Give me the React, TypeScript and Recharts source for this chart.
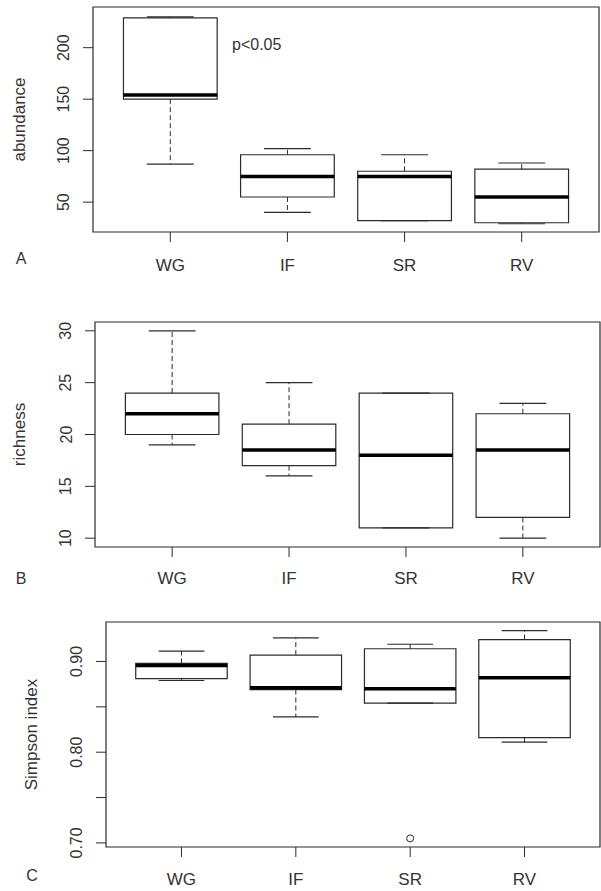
import React from "react";
import { ComposedChart, XAxis, YAxis, ReferenceArea, ReferenceLine, Scatter } from "recharts";

const categories = ["WG", "IF", "SR", "RV"];
const xPos = [1, 2, 3, 4];

// abundance (panel A)
const abundanceLow = [87, 40, 32, 29];
const abundanceQ1 = [150, 55, 32, 30];
const abundanceMedian = [154, 75, 75, 55];
const abundanceQ3 = [229, 96, 80, 82];
const abundanceHigh = [230, 102, 96, 88];
const abundanceTicks = [50, 100, 150, 200];

// richness (panel B)
const richnessLow = [19, 16, 11, 10];
const richnessQ1 = [20, 17, 11, 12];
const richnessMedian = [22, 18.5, 18, 18.5];
const richnessQ3 = [24, 21, 24, 22];
const richnessHigh = [30, 25, 24, 23];
const richnessTicks = [10, 15, 20, 25, 30];

// Simpson index (panel C)
const simpsonLow = [0.879, 0.839, 0.854, 0.811];
const simpsonQ1 = [0.881, 0.869, 0.854, 0.816];
const simpsonMedian = [0.8956, 0.871, 0.870, 0.882];
const simpsonQ3 = [0.8978, 0.907, 0.914, 0.924];
const simpsonHigh = [0.9115, 0.926, 0.919, 0.934];
const simpsonOutliers = [{ x: 3, y: 0.705 }];
const simpsonTicks = [0.7, 0.75, 0.8, 0.85, 0.9];
const simpsonTickLabels = ["0.70", "", "0.80", "", "0.90"];

const INK = "#2b2b2b";
const TEXT = "#333";
const FONT = "'Liberation Sans', Arial, sans-serif";
const X_DOMAIN: [number, number] = [0.34, 4.66];
const HALF_BOX = 0.4;
const HALF_CAP = 0.2;

const YTick = (props: any) => {
    const { x, y, payload, labels, ticks } = props;
    const idx = ticks.indexOf(payload.value);
    const label = labels ? labels[idx] : String(payload.value);
    const cx = x - 17;
    return (
        <text x={cx} y={y} transform={`rotate(-90, ${cx}, ${y})`} textAnchor="middle" dominantBaseline="central"
            fontSize={16} fill={TEXT} fontFamily={FONT}>{label}</text>
    );
};

const XTick = (props: any) => {
    const { x, y, payload, dy } = props;
    return (
        <text x={x} y={y + dy} textAnchor="middle" dominantBaseline="central" fontSize={17} fill={TEXT} fontFamily={FONT}>
            {categories[payload.value - 1]}
        </text>
    );
};

// extra text: axis title, panel letter, annotation
const Annotations = (props: any) => {
    const { title, titleX, titleY, letter, letterX, letterY, note } = props;
    return (
        <g fontFamily={FONT} fill={TEXT}>
            <text x={titleX} y={titleY} transform={`rotate(-90, ${titleX}, ${titleY})`} textAnchor="middle"
                dominantBaseline="central" fontSize={17}>{title}</text>
            <text x={letterX} y={letterY} textAnchor="middle" dominantBaseline="central" fontSize={16}>{letter}</text>
            {note && <text x={note.x} y={note.y} fontSize={16}>{note.text}</text>}
        </g>
    );
};

interface PanelProps {
    top: number;
    height: number;
    margin: { top: number; right: number; bottom: number; left: number };
    low: number[];
    q1: number[];
    median: number[];
    q3: number[];
    high: number[];
    outliers: { x: number; y: number }[];
    domain: [number, number];
    ticks: number[];
    tickLabels?: string[];
    labelDy: number;
    annotations: any;
}

const BoxPanel: React.FC<PanelProps> = (p) => {
    return (
        <div style={{ position: "absolute", left: 0, top: p.top }}>
            <ComposedChart width={601} height={p.height} margin={p.margin}>
                <XAxis type="number" dataKey="x" domain={X_DOMAIN} allowDataOverflow ticks={xPos}
                    tickSize={10} axisLine={false} tickLine={{ stroke: INK }}
                    tick={<XTick dy={p.labelDy} />} height={40} interval={0}
                    label={<Annotations {...p.annotations} />} />
                <YAxis type="number" dataKey="y" domain={p.domain} allowDataOverflow ticks={p.ticks}
                    tickSize={10} axisLine={false} tickLine={{ stroke: INK }} width={60} interval={0}
                    tick={<YTick labels={p.tickLabels} ticks={p.ticks} />} />
                {/* plot frame */}
                <ReferenceArea x1={X_DOMAIN[0]} x2={X_DOMAIN[1]} y1={p.domain[0]} y2={p.domain[1]}
                    fill="none" stroke={INK} strokeWidth={1.2} ifOverflow="visible" />
                {xPos.map((x, i) => (
                    <React.Fragment key={categories[i]}>
                        <ReferenceLine segment={[{ x, y: p.q3[i] }, { x, y: p.high[i] }]} stroke={INK} strokeDasharray="5 3" ifOverflow="visible" />
                        <ReferenceLine segment={[{ x, y: p.q1[i] }, { x, y: p.low[i] }]} stroke={INK} strokeDasharray="5 3" ifOverflow="visible" />
                        <ReferenceLine segment={[{ x: x - HALF_CAP, y: p.high[i] }, { x: x + HALF_CAP, y: p.high[i] }]} stroke={INK} strokeWidth={1.2} ifOverflow="visible" />
                        <ReferenceLine segment={[{ x: x - HALF_CAP, y: p.low[i] }, { x: x + HALF_CAP, y: p.low[i] }]} stroke={INK} strokeWidth={1.2} ifOverflow="visible" />
                        <ReferenceArea x1={x - HALF_BOX} x2={x + HALF_BOX} y1={p.q1[i]} y2={p.q3[i]}
                            fill="none" stroke={INK} strokeWidth={1.2} ifOverflow="visible" />
                        <ReferenceLine segment={[{ x: x - HALF_BOX, y: p.median[i] }, { x: x + HALF_BOX, y: p.median[i] }]} stroke="#000" strokeWidth={3.5} ifOverflow="visible" />
                    </React.Fragment>
                ))}
                <Scatter data={p.outliers} isAnimationActive={false}
                    shape={(s: any) => <circle cx={s.cx} cy={s.cy} r={3.5} fill="#fff" stroke={INK} strokeWidth={1} />} />
            </ComposedChart>
        </div>
    );
};

export default function App() {
    return (
        <div style={{ position: "absolute", left: 0, top: 0, width: 601, height: 891, background: "#fff" }}>
            <BoxPanel top={0} height={290} margin={{ top: 7, right: 2, bottom: 18, left: 33 }}
                low={abundanceLow} q1={abundanceQ1} median={abundanceMedian} q3={abundanceQ3} high={abundanceHigh}
                outliers={[]} domain={[21, 239.5]} ticks={abundanceTicks} labelDy={21}
                annotations={{ title: "abundance", titleX: 19, titleY: 119.5, letter: "A", letterX: 21, letterY: 258,
                    note: { x: 232, y: 50, text: "p<0.05" } }} />
            <BoxPanel top={290} height={300} margin={{ top: 32, right: 1, bottom: 3, left: 35 }}
                low={richnessLow} q1={richnessQ1} median={richnessMedian} q3={richnessQ3} high={richnessHigh}
                outliers={[]} domain={[9.15, 30.85]} ticks={richnessTicks} labelDy={19}
                annotations={{ title: "richness", titleX: 19, titleY: 144.5, letter: "B", letterX: 21, letterY: 288 }} />
            <BoxPanel top={590} height={301} margin={{ top: 32, right: 1, bottom: 4, left: 46 }}
                low={simpsonLow} q1={simpsonQ1} median={simpsonMedian} q3={simpsonQ3} high={simpsonHigh}
                outliers={simpsonOutliers} domain={[0.6955, 0.9435]} ticks={simpsonTicks} tickLabels={simpsonTickLabels}
                labelDy={20}
                annotations={{ title: "Simpson index", titleX: 31, titleY: 144.5, letter: "C", letterX: 32, letterY: 285 }} />
        </div>
    );
}
